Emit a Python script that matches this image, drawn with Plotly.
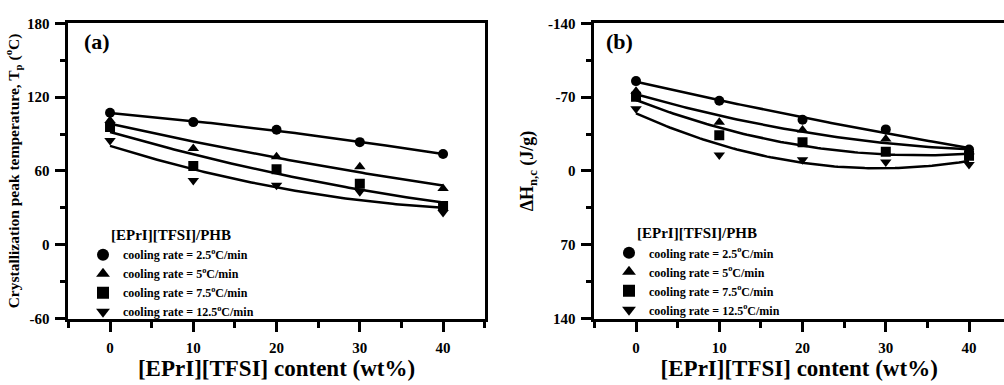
import numpy as np
import plotly.graph_objects as go

# ---------------- data ----------------
content = [0, 10, 20, 30, 40]  # [EPrI][TFSI] content (wt%)

rate_labels = ["2.5", "5", "7.5", "12.5"]
symbols = ["circle", "triangle-up", "square", "triangle-down"]

# (a) crystallization peak temperature Tp (°C)
tp_25 = [107.3, 99.7, 93.5, 83.4, 73.8]
tp_5 = [101.1, 78.2, 71.5, 63.4, 45.7]
tp_75 = [95.8, 64.1, 61.3, 49.6, 31.4]
tp_125 = [84.7, 52.2, 48.3, 43.1, 26.3]

# (b) ΔH_n,c (J/g)
dh_25 = [-85.2, -66.6, -48.5, -39.4, -20.3]
dh_5 = [-75.7, -46.1, -38.8, -30.3, -18.2]
dh_75 = [-70.3, -33.9, -27.3, -18.2, -14.5]
dh_125 = [-59.1, -15.2, -10.6, -8.5, -6.1]

ya_ticks = [-60, 0, 60, 120, 180]
yb_ticks = [-140, -70, 0, 70, 140]
x_ticks = [0, 10, 20, 30, 40]

# ---------------- figure ----------------
W, H = 1004, 385
FONT = "Liberation Serif"

def px_x(p):
    return p / W

def px_y(p):
    return (H - p) / H

fig = go.Figure()

panels = [
    ([tp_25, tp_5, tp_75, tp_125], "x", "y", "legend"),
    ([dh_25, dh_5, dh_75, dh_125], "x2", "y2", "legend2"),
]

xfit = np.linspace(min(content), max(content), 100)
for series, xa, ya, lg in panels:
    for vals, sym, lab in zip(series, symbols, rate_labels):
        coef = np.polyfit(content, vals, 2)
        fig.add_trace(go.Scatter(
            x=xfit, y=np.polyval(coef, xfit), mode="lines",
            line=dict(color="black", width=2.5),
            xaxis=xa, yaxis=ya, showlegend=False, hoverinfo="skip"))
    for vals, sym, lab in zip(series, symbols, rate_labels):
        fig.add_trace(go.Scatter(
            x=content, y=vals, mode="markers",
            marker=dict(symbol=sym, size=10, color="black"),
            name="cooling rate = %s<sup>o</sup>C/min" % lab,
            xaxis=xa, yaxis=ya, legend=lg))

tickfont = dict(family=FONT, size=15, color="black", weight="bold")
common_x = dict(
    tickmode="array", tickvals=x_ticks, ticktext=[str(v) for v in x_ticks],
    ticks="outside", ticklen=10, tickwidth=2.5, tickcolor="black",
    minor=dict(dtick=5, tick0=0, ticks="outside", ticklen=6, tickwidth=2.5, tickcolor="black"),
    showline=True, linewidth=3, linecolor="black", mirror=True,
    showgrid=False, zeroline=False, tickfont=tickfont, ticklabelstandoff=3,
    title=dict(text="[EPrI][TFSI] content (wt%)",
               font=dict(family=FONT, size=23, color="black", weight="bold"),
               standoff=4),
)
ydom = [px_y(324), px_y(16)]

legend_common = dict(
    xanchor="left", yanchor="top",
    bgcolor="rgba(0,0,0,0)", borderwidth=0,
    font=dict(family=FONT, size=12, color="black", weight="bold"),
    title=dict(text="[EPrI][TFSI]/PHB", side="top center",
               font=dict(family=FONT, size=15, color="black", weight="bold")),
    itemsizing="constant",
)

fig.update_layout(
    width=W, height=H,
    margin=dict(l=0, r=0, t=0, b=0),
    paper_bgcolor="white", plot_bgcolor="white",
    font=dict(family=FONT, color="black"),
    xaxis=dict(domain=[px_x(68.4), px_x(484.7)], range=[-5, 45], anchor="y", **common_x),
    xaxis2=dict(domain=[px_x(594.4), 1.0], range=[-5, 44.2], anchor="y2", **common_x),
    yaxis=dict(
        domain=ydom, range=[-60, 180], anchor="x",
        tickmode="array", tickvals=ya_ticks, ticktext=[str(v) for v in ya_ticks],
        ticks="outside", ticklen=10, tickwidth=2.5, tickcolor="black",
        minor=dict(dtick=30, tick0=0, ticks="outside", ticklen=5, tickwidth=2.5, tickcolor="black"),
        showline=True, linewidth=3, linecolor="black", mirror=True,
        showgrid=False, zeroline=False, tickfont=tickfont, ticklabelstandoff=3,
        title=dict(text="Crystallization peak temperature, T<sub>p</sub> (<sup>o</sup>C)",
                   font=dict(family=FONT, size=15.5, color="black", weight="bold"),
                   standoff=4),
    ),
    yaxis2=dict(
        domain=ydom, range=[140, -140], anchor="x2",
        tickmode="array", tickvals=yb_ticks, ticktext=[str(v) for v in yb_ticks],
        ticks="outside", ticklen=10, tickwidth=2.5, tickcolor="black",
        minor=dict(dtick=35, tick0=0, ticks="outside", ticklen=5, tickwidth=2.5, tickcolor="black"),
        showline=True, linewidth=3, linecolor="black", mirror=False,
        showgrid=False, zeroline=False, tickfont=tickfont, ticklabelstandoff=3,
        title=dict(text="ΔH<sub>n,c</sub> (J/g)",
                   font=dict(family=FONT, size=18, color="black", weight="bold"),
                   standoff=10),
    ),
    legend=dict(x=px_x(83), y=px_y(222), **legend_common),
    legend2=dict(x=px_x(609), y=px_y(220), **legend_common),
    annotations=[
        dict(text="(a)", x=px_x(82), y=px_y(35), xref="paper", yref="paper",
             xanchor="left", yanchor="middle", showarrow=False,
             font=dict(family=FONT, size=22, color="black", weight="bold")),
        dict(text="(b)", x=px_x(604), y=px_y(35), xref="paper", yref="paper",
             xanchor="left", yanchor="middle", showarrow=False,
             font=dict(family=FONT, size=22, color="black", weight="bold")),
    ],
)

fig.write_html("out.html")
